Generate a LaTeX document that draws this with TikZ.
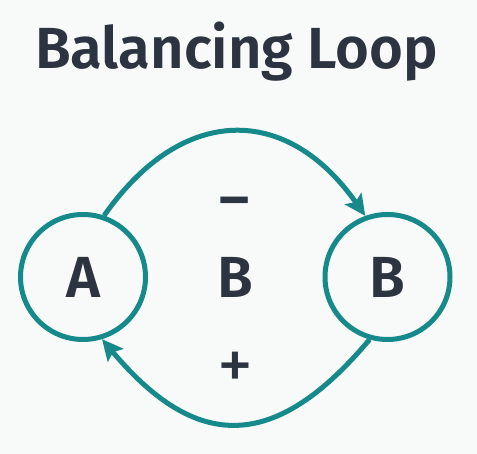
\documentclass[tikz,border=0pt]{standalone}
\usepackage{fontspec}
\setmainfont{Fira Sans}[BoldFont={Fira Sans SemiBold}]
\usetikzlibrary{arrows.meta,positioning}
\definecolor{loopteal}{HTML}{16898A}
\definecolor{inkgray}{HTML}{2B3440}
\definecolor{paper}{HTML}{F8F9F9}
\tikzset
{
    varnode/.style  = {circle, draw=loopteal, line width=5pt, minimum size=125pt, inner sep=0pt, text=inkgray, font=\fontsize{58}{60}\selectfont\bfseries},
    signlabel/.style = {text=inkgray, font=\fontsize{58}{60}\selectfont\bfseries},
    link/.style     = {draw=loopteal, line width=5pt, -{Stealth[length=21pt,width=20pt,inset=4pt]}}
}

\begin{document}
\begin{tikzpicture}[x=1pt, y=1pt]
	\fill[paper] (0,0) rectangle (477,454);
	\useasboundingbox (0,0) rectangle (477,454);
\node (title)	[signlabel] 		at (236.5,402)	{Balancing Loop};
\node (a)		[varnode] 			at (83,177)		{A};
\node (b)		[varnode] 			at (387.5,177)	{B};
\node (minus)	[signlabel] 		at (235,246)	{–};
\node (loop)	[signlabel] 		at (235,177)	{B};
\node (plus)	[signlabel, font=\fontsize{72}{74}\selectfont] at (235,83)	{+};

\path
(a.71)	edge[link, out=55, in=125, looseness=1.34]		node {} (b.110)
(b.-106)	edge[link, out=-130, in=-50, looseness=1.41]	node {} (a.-73);

	\end{tikzpicture}
\end{document}
